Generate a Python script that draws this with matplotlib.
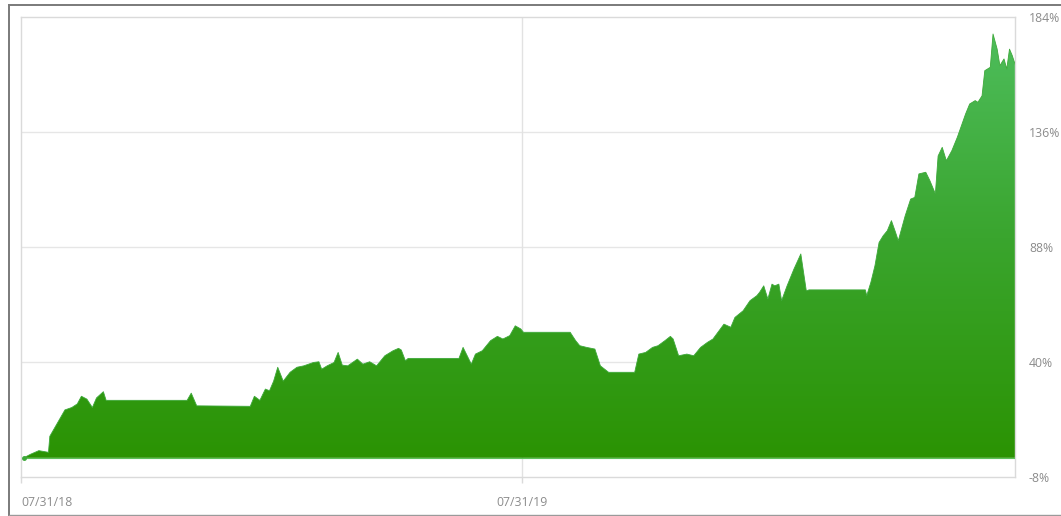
import numpy as np
import pandas as pd
import matplotlib
matplotlib.use("Agg")
import matplotlib.pyplot as plt
import matplotlib.dates as mdates
from matplotlib.colors import LinearSegmentedColormap
from matplotlib.lines import Line2D

plt.rcParams['font.family'] = ['Open Sans', 'DejaVu Sans']

# ---- data (days since 2018-07-31, cumulative return %) ----
start_date = "2018-07-31"
day_offsets = [2, 7, 13, 20, 21, 24, 27, 32, 37, 41, 44, 48, 52, 55, 60, 62,
               121, 124, 128, 167, 170, 174, 178, 181, 184, 187, 191, 196, 201,
               206, 213, 217, 219, 223, 228, 231, 234, 238, 245, 249, 254, 259,
               265, 271, 275, 277, 280, 282, 319, 322, 328, 331, 336, 342, 347,
               351, 356, 360, 364, 366, 400, 404, 407, 412, 418, 422, 428, 447,
               450, 455, 460, 464, 469, 473, 475, 479, 485, 490, 495, 500, 504,
               512, 517, 520, 526, 531, 536, 538, 541, 544, 547, 549, 552, 554,
               558, 563, 568, 570, 572, 574, 615, 616, 619, 622, 625, 628, 631,
               634, 637, 639, 644, 648, 651, 654, 659, 662, 666, 668, 671, 674,
               678, 682, 685, 688, 691, 695, 697, 700, 702, 706, 708, 711, 713,
               716, 718, 720, 722, 724]
returns_pct = [0.0, 1.5, 3.0, 2.3, 9.0, 12.0, 15.0, 20.0, 21.0, 22.5, 25.7, 24.5,
               21.0, 25.0, 27.6, 24.0,
               24.0, 27.0, 21.7, 21.5, 25.7, 24.0, 28.7, 28.0, 32.0, 37.8, 32.0,
               35.7, 37.8, 38.4, 39.8, 40.1, 37.0, 38.4, 39.8, 44.0, 38.7, 38.4,
               41.2, 39.1, 40.1, 38.4, 42.6, 44.7, 45.7, 45.0, 40.5, 41.5, 41.5,
               46.1, 39.1, 43.3, 44.7, 48.9, 50.7, 49.6, 51.0, 55.1, 53.8, 52.4,
               52.4, 48.9, 46.8, 46.1, 45.4, 38.4, 35.7, 35.7, 43.3, 44.0, 46.1,
               46.8, 48.9, 50.7, 49.6, 42.6, 43.3, 42.6, 46.1, 48.2, 49.6, 55.8,
               54.5, 58.6, 61.4, 65.6, 67.7, 69.1, 71.8, 66.3, 72.5, 71.8, 72.5,
               65.6, 71.8, 78.8, 85.1, 77.4, 69.7, 70.1, 70.1, 67.7, 73.2, 80.2,
               89.9, 92.7, 94.8, 99.0, 94.1, 90.6, 101.0, 108.0, 108.7, 118.5,
               119.2, 115.7, 110.2, 126.0, 129.6, 124.0, 128.2, 133.8, 138.6,
               143.5, 147.7, 149.1, 148.4, 151.1, 161.6, 163.0, 176.9, 170.6,
               163.7, 166.5, 162.3, 170.6, 167.9, 164.4]
y_ticks = [-8, 40, 88, 136, 184]
x_tick_dates = ["2018-07-31", "2019-07-31"]
x_tick_labels = ["07/31/18", "07/31/19"]

# ---- figure ----
W, H = 1061, 516
fig = plt.figure(figsize=(W / 100, H / 100), dpi=100)
fig.patch.set_facecolor("white")

ax_left, ax_right, ax_top, ax_bottom = 21, 1015, 17, 477
ax = fig.add_axes([ax_left / W, (H - ax_bottom) / H,
                   (ax_right - ax_left) / W, (ax_bottom - ax_top) / H])

t0 = pd.Timestamp(start_date)
dates = [t0 + pd.Timedelta(days=d) for d in day_offsets]
xnum = mdates.date2num(dates)
y = np.array(returns_pct)

x_min = mdates.date2num(t0)
x_max = mdates.date2num(t0 + pd.Timedelta(days=724))
ax.set_xlim(x_min, x_max)
ax.set_ylim(-8, 184)

# gradient fill
poly = ax.fill_between(xnum, 0, y, facecolor="none", edgecolor="none")
cmap = LinearSegmentedColormap.from_list("g", ["#2b9303", "#3aa52e", "#4fbf5f"])
grad = np.linspace(0, 1, 256).reshape(-1, 1)
img = ax.imshow(grad, cmap=cmap, origin="lower", aspect="auto",
                extent=[x_min, x_max, 0, 184], zorder=2, interpolation="bicubic")
path = poly.get_paths()[0]
img.set_clip_path(path, transform=ax.transData)
ax.plot(xnum, y, color="#3da93a", lw=0.6, zorder=3)
ax.plot([xnum[0], xnum[-1]], [0, 0], color="#5cc05a", lw=0.8, zorder=3)
ax.plot([xnum[0]], [y[0]], marker="o", ms=2.5, color="#3da93a", zorder=3)

# grid
for v in y_ticks[1:-1]:
    ax.axhline(v, color="#e6e6e6", lw=1.0, zorder=1)
ax.axvline(mdates.date2num(pd.Timestamp(x_tick_dates[1])), color="#e2e2e2", lw=1.0, zorder=1)

for s in ax.spines.values():
    s.set_color("#dadada")
    s.set_linewidth(1.0)

ax.yaxis.tick_right()
ax.set_yticks(y_ticks)
ax.set_yticklabels([f"{v}%" for v in y_ticks])
ax.tick_params(axis="y", length=0, pad=10, labelsize=8.8, labelcolor="#8c8c8c")

ax.set_xticks(mdates.date2num([pd.Timestamp(d) for d in x_tick_dates]))
ax.set_xticklabels(x_tick_labels)
ax.tick_params(axis="x", length=4, width=1, color="#dadada", pad=9.5,
               labelsize=8.8, labelcolor="#8c8c8c")
ax.get_xticklabels()[0].set_horizontalalignment("left")

# outer frame (left, top, bottom)
def px_line(x0, y0, x1, y1, **kw):
    fig.add_artist(Line2D([x0 / W, x1 / W], [1 - y0 / H, 1 - y1 / H],
                          transform=fig.transFigure, **kw))

px_line(8.5, 4.5, 8.5, 514.5, color="#7a7a7a", lw=1.4)
px_line(8.5, 4.5, 1061, 4.5, color="#7a7a7a", lw=1.4)
px_line(8.5, 514.5, 1061, 514.5, color="#9a9a9a", lw=1.0)

fig.savefig("out.png", dpi=100)
